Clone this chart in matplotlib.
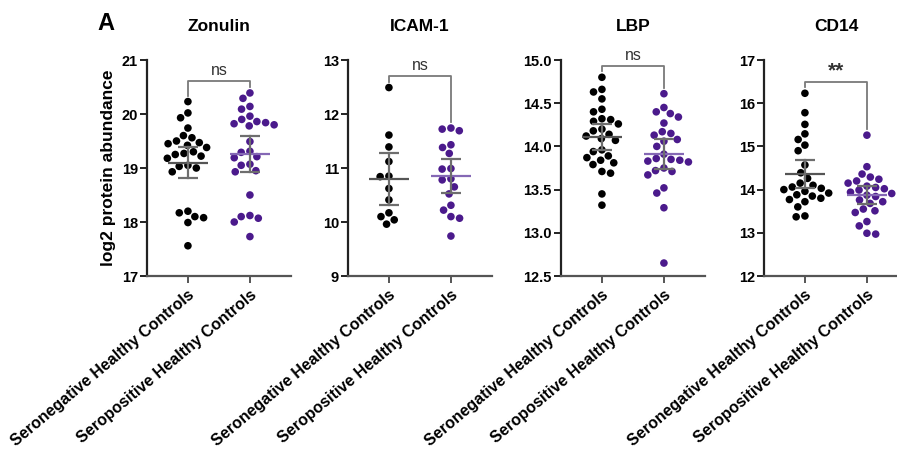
import numpy as np
import matplotlib
matplotlib.use("Agg")
import matplotlib.pyplot as plt

plt.rcParams['font.family'] = ['Liberation Sans', 'DejaVu Sans']

# ---------------- data ----------------
titles = ["Zonulin", "ICAM-1", "LBP", "CD14"]
groups = ["Seronegative Healthy Controls", "Seropositive Healthy Controls"]
ylims = [(17, 21), (9, 13), (12.5, 15.0), (12, 17)]
ytick_vals = [[17, 18, 19, 20, 21], [9, 10, 11, 12, 13],
              [12.5, 13.0, 13.5, 14.0, 14.5, 15.0], [12, 13, 14, 15, 16, 17]]
ytick_labels = [["17", "18", "19", "20", "21"], ["9", "10", "11", "12", "13"],
                ["12.5", "13.0", "13.5", "14.0", "14.5", "15.0"],
                ["12", "13", "14", "15", "16", "17"]]
sig_labels = ["ns", "ns", "ns", "**"]

zonulin_neg = [20.23, 20.02, 19.93, 19.74, 19.60, 19.56, 19.50, 19.47, 19.45,
               19.42, 19.38, 19.30, 19.27, 19.25, 19.22, 19.18, 19.05, 19.03,
               19.00, 18.93, 18.20, 18.17, 18.10, 18.08, 17.99, 17.56]
zonulin_pos = [20.39, 20.29, 20.14, 20.09, 19.96, 19.90, 19.86, 19.84, 19.82,
               19.80, 19.78, 19.49, 19.31, 19.29, 19.21, 19.19, 19.07, 19.05,
               18.95, 18.93, 18.50, 18.12, 18.10, 18.07, 18.00, 17.73]
icam_neg = [12.49, 11.61, 11.39, 11.12, 10.84, 10.85, 10.62, 10.41, 10.10,
            10.17, 9.96, 10.04]
icam_pos = [11.69, 11.74, 11.72, 11.43, 11.38, 11.27, 10.98, 10.99, 10.78,
            10.80, 10.65, 10.52, 10.22, 10.31, 10.07, 10.10, 9.74]
lbp_neg = [14.80, 14.66, 14.63, 14.55, 14.40, 14.43, 14.32, 14.31, 14.29,
           14.26, 14.20, 14.18, 14.14, 14.12, 14.09, 14.07, 13.96, 13.94,
           13.89, 13.87, 13.84, 13.81, 13.79, 13.71, 13.69, 13.45, 13.32]
lbp_pos = [14.61, 14.45, 14.40, 14.38, 14.34, 14.27, 14.17, 14.13, 14.15,
           14.08, 14.06, 14.00, 13.91, 13.85, 13.84, 13.83, 13.86, 13.82,
           13.71, 13.72, 13.75, 13.67, 13.52, 13.46, 13.29, 12.65]
cd14_neg = [16.23, 15.78, 15.51, 15.29, 15.16, 15.03, 14.90, 14.57, 14.39,
            14.26, 14.15, 14.10, 14.06, 14.03, 14.00, 13.96, 13.92, 13.88,
            13.85, 13.80, 13.77, 13.72, 13.60, 13.39, 13.37]
cd14_pos = [15.26, 14.53, 14.36, 14.29, 14.24, 14.20, 14.15, 14.08, 14.05,
            14.02, 13.99, 13.94, 13.91, 13.87, 13.84, 13.76, 13.72, 13.68,
            13.55, 13.51, 13.47, 13.26, 13.16, 12.99, 12.97]

neg_values = [zonulin_neg, icam_neg, lbp_neg, cd14_neg]
pos_values = [zonulin_pos, icam_pos, lbp_pos, cd14_pos]
means_neg = [19.10, 10.80, 14.11, 14.36]
sem_neg = [0.29, 0.485, 0.155, 0.32]
means_pos = [19.26, 10.85, 13.91, 13.875]
sem_pos = [0.33, 0.32, 0.17, 0.205]

# ---------------- style ----------------
W, H = 897, 467
dpi = 100
fig = plt.figure(figsize=(W / dpi, H / dpi), dpi=dpi)
ax_left_px = [147, 348, 561, 764]
ax_w_px = 144
ax_top_px, ax_bot_px = 60, 276
col_neg = "#000000"
col_pos = "#4B1A8C"
mean_cols = ["#555555", "#8568B5"]
err_col = "#6E6E6E"
br_col = "#7A7A7A"
dot_px = 7.6
xppu = 62.0  # pixels per x unit


def swarm_offsets(vals, ppu_y, d):
    ys = np.asarray(vals, float) * ppu_y
    order = np.argsort(-ys)
    placed = []
    xs = np.zeros(len(ys))
    for i in order:
        y = ys[i]
        cands = [0.0]
        for (px, py) in placed:
            dy = y - py
            if abs(dy) < d:
                dx = np.sqrt(d * d - dy * dy)
                cands += [px + dx, px - dx]
        cands = sorted(cands, key=lambda c: (abs(c), c))
        chosen = cands[-1]
        for c in cands:
            if all((c - px) ** 2 + (y - py) ** 2 >= d * d - 1e-6 for px, py in placed):
                chosen = c
                break
        placed.append((chosen, y))
        xs[i] = chosen
    return xs / xppu


for k in range(4):
    l = ax_left_px[k] / W
    b = 1 - ax_bot_px / H
    ax = fig.add_axes([l, b, ax_w_px / W, (ax_bot_px - ax_top_px) / H])
    y0, y1 = ylims[k]
    ppu_y = (ax_bot_px - ax_top_px) / (y1 - y0)
    ax.set_xlim(-0.66, -0.66 + ax_w_px / xppu)
    ax.set_ylim(y0, y1)

    data = [neg_values[k], pos_values[k]]
    means = [means_neg[k], means_pos[k]]
    sems = [sem_neg[k], sem_pos[k]]
    cols = [col_neg, col_pos]
    for g in range(2):
        offs = swarm_offsets(data[g], ppu_y, 8.8)
        ax.scatter(g + offs, data[g], s=(dot_px * 72 / dpi) ** 2, color=cols[g],
                   edgecolors='none', zorder=3, clip_on=False)
        ax.plot([g - 0.32, g + 0.32], [means[g], means[g]], color=mean_cols[g],
                lw=1.6, zorder=4, solid_capstyle='butt')
        ax.plot([g, g], [means[g] - sems[g], means[g] + sems[g]], color=err_col,
                lw=1.6, zorder=4)
        for yy in (means[g] - sems[g], means[g] + sems[g]):
            ax.plot([g - 0.16, g + 0.16], [yy, yy], color=err_col, lw=1.6,
                    zorder=4, solid_capstyle='butt')

    # significance bracket
    mx0 = max(data[0])
    mx1 = max(data[1])
    top = max(mx0, mx1) + 11.5 / ppu_y
    leg0 = mx0 + 6 / ppu_y
    leg1 = mx1 + 6 / ppu_y
    ax.plot([0, 0, 1, 1], [leg0, top, top, leg1], color=br_col, lw=1.3,
            clip_on=False, zorder=2)
    if sig_labels[k] == "**":
        ax.text(0.5, top + 1 / ppu_y, sig_labels[k], ha='center', va='bottom',
                fontsize=15, fontweight='bold', color='#333333')
    else:
        ax.text(0.5, top + 3 / ppu_y, sig_labels[k], ha='center', va='bottom',
                fontsize=11.5, color='#333333')

    for s in ['top', 'right']:
        ax.spines[s].set_visible(False)
    ax.spines['left'].set_linewidth(1.6)
    ax.spines['left'].set_color('#222222')
    ax.spines['bottom'].set_linewidth(1.6)
    ax.spines['bottom'].set_color('#555555')
    ax.set_yticks(ytick_vals[k])
    ax.set_yticklabels(ytick_labels[k], fontsize=10.5, fontweight='bold')
    ax.set_xticks([0, 1])
    ax.set_xticklabels(groups, rotation=40, ha='right', rotation_mode='anchor',
                       fontsize=11.5, fontweight='bold')
    ax.tick_params(axis='y', length=5, width=1.4, color='#222222', pad=1.5)
    ax.tick_params(axis='x', length=5, width=1.4, color='#555555', pad=3)
    ax.set_title(titles[k], fontsize=12.5, fontweight='bold', pad=21)
    if k == 0:
        ax.set_ylabel("log2 protein abundance", fontsize=12.5, fontweight='bold',
                      labelpad=4)

fig.text(97 / W, 1 - 12 / H, "A", fontsize=17, fontweight='bold', ha='left', va='top')
fig.savefig("out.png", dpi=dpi)
